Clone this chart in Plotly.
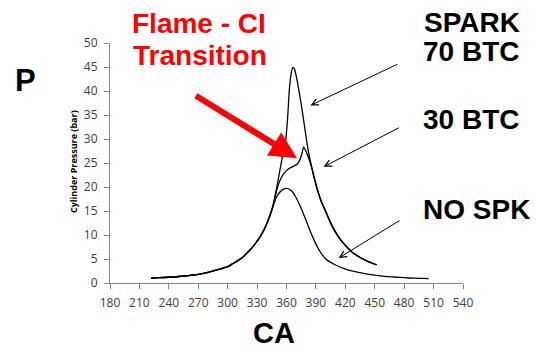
import plotly.graph_objects as go

# ---- data ----
ca_common = [222, 230, 240, 250, 260, 270, 280, 290, 300, 305, 310, 315, 320, 325, 330, 335, 340, 345]
p_common = [1.0, 1.1, 1.2, 1.35, 1.55, 1.8, 2.2, 2.8, 3.4, 4.0, 4.6, 5.3, 6.3, 7.4, 8.7, 10.3, 12.4, 15.2]

ca_nospk = [350, 355, 360, 365, 370, 375, 380, 385, 390, 395, 400, 405, 410, 420, 430, 440, 450, 460, 470, 480, 490, 505]
p_nospk = [18.0, 19.3, 19.7, 19.2, 17.7, 15.5, 13.0, 10.4, 8.1, 6.3, 5.0, 4.3, 3.75, 2.9, 2.35, 1.95, 1.65, 1.4, 1.25, 1.1, 1.0, 0.9]

ca_70btc = [347, 350, 353, 356, 359, 361, 363, 365, 366.5, 368, 369.5, 372.5, 375.5, 378.5, 382, 385, 388.5, 392, 396, 400, 405, 410, 415, 420, 428, 440, 452]
p_70btc = [16.8, 19.8, 23.2, 26.5, 29.5, 34.0, 40.5, 43.9, 44.9, 44.6, 43.5, 40.3, 36.6, 32.5, 27.8, 24.8, 21.8, 19.2, 16.8, 15.0, 12.6, 10.7, 9.1, 7.9, 6.3, 4.8, 3.8]

ca_30btc = [347, 350, 353, 356, 359, 363, 367, 371, 373.5, 375.5, 377.5, 379.5, 381.5, 385, 388.5, 392, 396, 400, 405, 410, 415, 420, 428, 440, 452]
p_30btc = [16.8, 19.3, 21.2, 22.4, 23.2, 23.9, 24.3, 24.8, 25.6, 26.8, 28.3, 27.6, 26.6, 24.5, 21.6, 19.0, 16.6, 14.8, 12.4, 10.5, 9.0, 7.8, 6.2, 4.75, 3.75]

x_ticks = list(range(180, 541, 30))
y_ticks = list(range(0, 51, 5))

# ---- figure ----
L, R, T, B = 110, 73, 43, 68
W, H = 536, 351
PW, PH = W - L - R, H - T - B


def px(xp):
    return (xp - L) / PW


def py(yp):
    return (H - B - yp) / PH


fig = go.Figure()
line = dict(color="black", width=1.3, shape="spline", smoothing=0.7)
for cas, ps in [(ca_nospk, p_nospk), (ca_30btc, p_30btc), (ca_70btc, p_70btc)]:
    fig.add_trace(go.Scatter(x=ca_common + cas, y=p_common + ps, mode="lines",
                             line=line, showlegend=False, hoverinfo="skip"))

big = dict(family="Liberation Sans, Arial", size=28, color="black")
red = dict(family="Liberation Sans, Arial", size=28, color="#ff0000")

texts = [
    ("<b>Flame - CI</b>", 198.5, 23, red),
    ("<b>Transition</b>", 199.5, 55.5, red),
    ("<b>SPARK</b>", 471.7, 22, big),
    ("<b>70 BTC</b>", 470.8, 52, big),
    ("<b>30 BTC</b>", 471, 119.5, big),
    ("<b>NO SPK</b>", 476.7, 209.5, big),
    ("<b>CA</b>", 274, 333, dict(big, size=29)),
    ("<b>P</b>", 25, 80, dict(big, size=31)),
]
for t, xp, yp, f in texts:
    fig.add_annotation(text=t, x=px(xp), y=py(yp), xref="paper", yref="paper",
                       showarrow=False, xanchor="center", yanchor="middle", font=f,
                       borderpad=0)

fig.add_annotation(text="<b>Cylinder Pressure (bar)</b>", x=px(73), y=py(162),
                   xref="paper", yref="paper", showarrow=False, textangle=-90,
                   xanchor="center", yanchor="middle",
                   font=dict(family="Open Sans", size=9, color="black"))

# arrows: (tip_x, tip_y, tail_x, tail_y) in data units
arrows = [
    (370.8, 26.0, 266.0, 39.2, "#ff0000", 6, 0.9, 2),
    (384.4, 37.0, 474.4, 45.7, "black", 1, 1.3, 5),
    (397.9, 24.2, 476.1, 32.5, "black", 1, 1.3, 5),
    (413.2, 5.2, 476.8, 13.2, "black", 1, 1.3, 5),
]
for x, y, ax, ay, c, w, s, h in arrows:
    fig.add_annotation(x=x, y=y, ax=ax, ay=ay, xref="x", yref="y", axref="x", ayref="y",
                       text="", showarrow=True, arrowhead=h, arrowsize=s,
                       arrowwidth=w, arrowcolor=c, standoff=0)

axis_common = dict(showline=True, linecolor="#868686", linewidth=1, ticks="outside",
                   ticklen=5, tickcolor="#868686", showgrid=False, zeroline=False,
                   tickfont=dict(family="Open Sans", size=12, color="#404040"))
fig.update_xaxes(range=[180, 540], tickvals=x_ticks, ticktext=[str(v) for v in x_ticks],
                 ticklabelstandoff=4, **axis_common)
fig.update_yaxes(range=[0, 50], tickvals=y_ticks, ticktext=[str(v) for v in y_ticks],
                 ticklabelstandoff=4, **axis_common)

fig.update_layout(width=W, height=H, margin=dict(l=L, r=R, t=T, b=B),
                  plot_bgcolor="white", paper_bgcolor="white", showlegend=False)
fig.write_html("out.html")
